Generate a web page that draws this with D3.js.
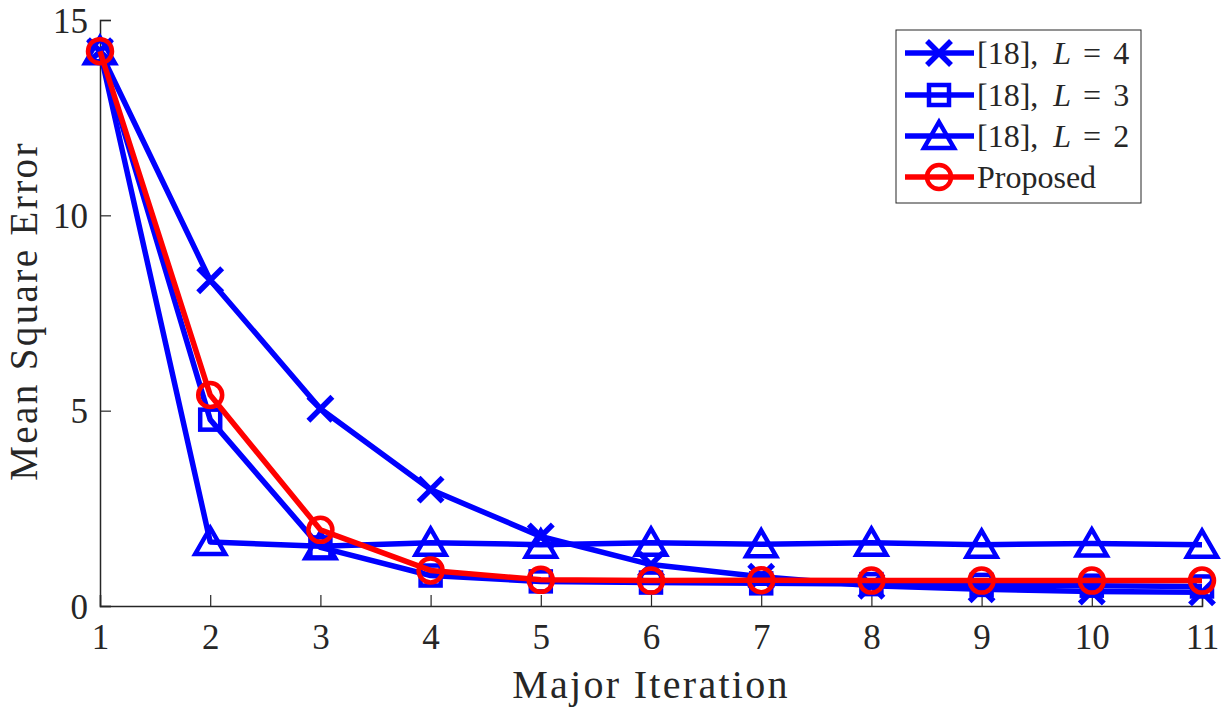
<!DOCTYPE html>
<html>
<head>
<meta charset="utf-8">
<script src="https://cdn.jsdelivr.net/npm/d3@7"></script>
<style>
  body { margin: 0; background: #fff; }
  svg text { font-family: "Liberation Serif", "DejaVu Serif", serif; fill: #262626; }
</style>
</head>
<body>
<svg class="chart" width="1225" height="711"></svg>
<script>
var iterations = [1, 2, 3, 4, 5, 6, 7, 8, 9, 10, 11];
var mseL4 = [14.2, 8.34, 5.05, 2.98, 1.78, 1.06, 0.75, 0.52, 0.43, 0.37, 0.35];
var mseL3 = [14.2, 4.77, 1.5, 0.78, 0.63, 0.6, 0.58, 0.56, 0.54, 0.52, 0.5];
var mseL2 = [14.2, 1.64, 1.53, 1.62, 1.57, 1.62, 1.58, 1.62, 1.57, 1.6, 1.57];
var mseProposed = [14.2, 5.4, 1.95, 0.91, 0.67, 0.65, 0.66, 0.65, 0.65, 0.65, 0.65];
var yTicks = [0, 5, 10, 15];

var series = [
  {label: "L4", values: mseL4, color: "#0000ff", marker: "x"},
  {label: "L3", values: mseL3, color: "#0000ff", marker: "square"},
  {label: "L2", values: mseL2, color: "#0000ff", marker: "triangle"},
  {label: "Proposed", values: mseProposed, color: "#ff0000", marker: "circle"}
];

var svg = d3.select(".chart"),
    margin = {top: 20, right: 23, bottom: 105, left: 100},
    width = 1225 - margin.left - margin.right,
    height = 711 - margin.top - margin.bottom;

var x = d3.scaleLinear().domain([1, 11]).range([0, width]);
var y = d3.scaleLinear().domain([0, 15]).range([height, 0]);

var g = svg.append("g")
    .attr("transform", "translate(" + margin.left + "," + margin.top + ")");

// axes (box off, ticks inside)
var xAxis = g.append("g")
    .attr("transform", "translate(0," + height + ")")
    .call(d3.axisBottom(x).tickValues(iterations).tickSize(-11).tickPadding(18).tickFormat(d3.format("d")));
var yAxis = g.append("g")
    .call(d3.axisLeft(y).tickValues(yTicks).tickSize(-11).tickPadding(12));

[xAxis, yAxis].forEach(function(a) {
  a.select(".domain").attr("stroke", "#262626").attr("stroke-width", 1.5);
  a.selectAll(".tick line").attr("stroke", "#262626").attr("stroke-width", 1.2);
  a.selectAll(".tick text").style("font-size", "35px").attr("fill", "#262626");
});
yAxis.selectAll(".tick text").attr("dy", "0.35em");

g.append("text")
    .attr("x", width / 2)
    .attr("y", height + 92)
    .style("font-size", "40px")
    .style("letter-spacing", "2.3px")
    .style("text-anchor", "middle")
    .text("Major Iteration");

g.append("text")
    .attr("transform", "rotate(-90)")
    .attr("x", -height / 2 + 2)
    .attr("y", -63)
    .style("font-size", "39px")
    .style("letter-spacing", "2.4px")
    .style("text-anchor", "middle")
    .text("Mean Square Error");

function drawMarker(sel, type, color) {
  sel.attr("fill", "none").attr("stroke", color).attr("stroke-width", 4.5);
  if (type === "x") {
    sel.append("path").attr("d", "M-12,-12L12,12M-12,12L12,-12").attr("stroke-width", 5.5);
  } else if (type === "square") {
    sel.append("rect").attr("x", -10).attr("y", -10).attr("width", 20).attr("height", 20);
  } else if (type === "triangle") {
    sel.append("path").attr("d", "M0,-14L15,12L-15,12Z").attr("stroke-linejoin", "miter");
  } else {
    sel.append("circle").attr("r", 12);
  }
}

var line = d3.line()
    .x(function(d, i) { return x(iterations[i]); })
    .y(function(d) { return y(d); });

series.forEach(function(s) {
  var sg = g.append("g").attr("class", "series");
  sg.append("path")
      .datum(s.values)
      .attr("fill", "none")
      .attr("stroke", s.color)
      .attr("stroke-width", 5.5)
      .attr("stroke-linejoin", "round")
      .attr("d", line);
  sg.selectAll(".marker")
      .data(s.values)
      .enter().append("g")
      .attr("class", "marker")
      .attr("transform", function(d, i) { return "translate(" + x(iterations[i]) + "," + y(d) + ")"; })
      .each(function() { drawMarker(d3.select(this), s.marker, s.color); });
});

// legend
var legend = svg.append("g").attr("transform", "translate(896,30)");
legend.append("rect")
    .attr("width", 245).attr("height", 173)
    .attr("fill", "#fff").attr("stroke", "#262626").attr("stroke-width", 1);

var legendY = [23, 65, 106, 147];
series.forEach(function(s, i) {
  var row = legend.append("g").attr("transform", "translate(0," + legendY[i] + ")");
  row.append("line")
      .attr("x1", 9).attr("x2", 78)
      .attr("stroke", s.color).attr("stroke-width", 5.5);
  row.append("g").attr("transform", "translate(43,0)")
      .call(function(m) { drawMarker(m, s.marker, s.color); });
  var t = row.append("text").attr("x", 81).attr("dy", "0.33em").style("font-size", "32px");
  if (s.label === "Proposed") {
    t.text("Proposed");
  } else {
    t.append("tspan").text("[18],");
    t.append("tspan").attr("dx", 15).style("font-style", "italic").text("L");
    t.append("tspan").attr("dx", 12).text("=");
    t.append("tspan").attr("dx", 12).text(s.label.slice(1));
  }
});
</script>
</body>
</html>
